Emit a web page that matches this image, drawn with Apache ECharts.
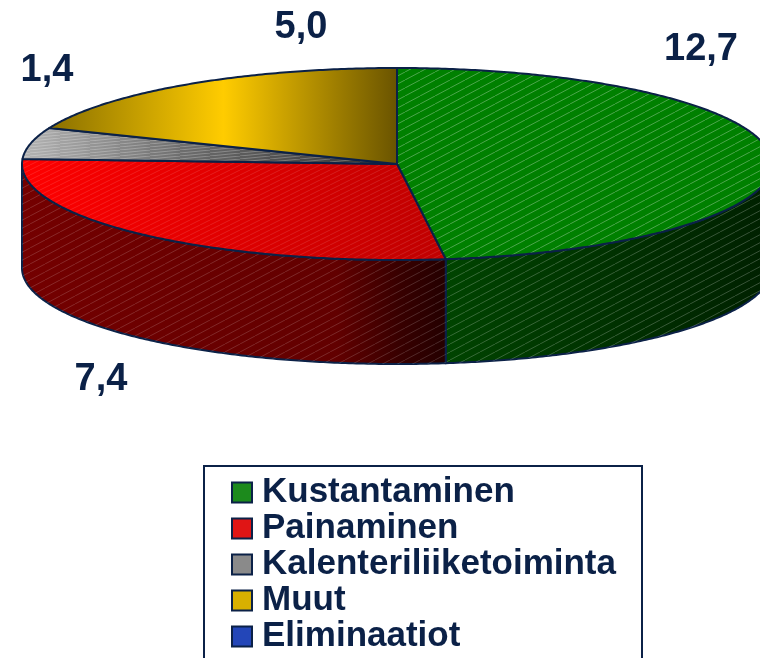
<!DOCTYPE html>
<html>
<head>
<meta charset="utf-8">
<script src="https://cdn.jsdelivr.net/npm/echarts@6/dist/echarts.min.js"></script>
<style>
html, body { margin: 0; padding: 0; background: #fff; }
#chart { width: 760px; height: 658px; }
</style>
</head>
<body>
<div id="chart"></div>
<script>
var categories = ['Kustantaminen', 'Painaminen', 'Kalenteriliiketoiminta', 'Muut', 'Eliminaatiot'];
var values = [12.7, 7.4, 1.4, 5.0, 0];
var legendColors = ['#1c8a1c', '#e01515', '#8a8a8a', '#d8b000', '#2346b8'];

var chart = echarts.init(document.getElementById('chart'));

// tilted pie geometry (layout only)
var cx = 397, cy = 164, rx = 375, ry = 96, depth = 104;
var labelPos = [[701, 50], [101, 380], [47, 71], [301, 28], [0, 0]];
var navy = '#0b2147';
var font = '"Liberation Sans", Arial, sans-serif';

var total = 0;
for (var i = 0; i < values.length; i++) total += values[i];

function hatch(alpha, w, h) {
    var c = document.createElement('canvas');
    c.width = w;
    c.height = h;
    var g = c.getContext('2d');
    g.strokeStyle = 'rgba(255,255,255,' + alpha + ')';
    g.lineWidth = 1;
    g.beginPath();
    for (var k = -1; k <= 1; k++) {
        g.moveTo(k * w, h);
        g.lineTo(k * w + w, 0);
    }
    g.stroke();
    return { image: c, repeat: 'repeat' };
}

function grad(x0, x1, stops) {
    return new echarts.graphic.LinearGradient(x0, 0, x1, 0, stops, true);
}

var tops = [
    '#008000',
    grad(22, 441, [{ offset: 0, color: '#ff0000' }, { offset: 1, color: '#c00000' }]),
    grad(22, 397, [{ offset: 0, color: '#b4b4b4' }, { offset: 0.45, color: '#6a6a6a' }, { offset: 1, color: '#303030' }]),
    grad(50, 397, [{ offset: 0, color: '#8a7000' }, { offset: 0.5, color: '#ffcc00' }, { offset: 1, color: '#6a5400' }]),
    '#2346b8'
];
var walls = [
    grad(441, 772, [{ offset: 0, color: '#004400' }, { offset: 1, color: '#002000' }]),
    grad(22, 441, [{ offset: 0, color: '#740000' }, { offset: 0.75, color: '#620000' }, { offset: 0.9, color: '#380000' }, { offset: 1, color: '#260000' }]),
    '#404040', '#6a5400', '#102060'
];
var topHatch = [hatch(0.3, 15, 8), hatch(0.12, 10, 5), hatch(0.25, 30, 3), null, null];
var wallHatch = [hatch(0.22, 15, 8), hatch(0.16, 15, 8), null, null, null];

function pt(a, dy) {
    return [cx + rx * Math.sin(a), cy - ry * Math.cos(a) + dy];
}

function arc(a0, a1, dy) {
    var pts = [];
    var n = Math.max(2, Math.ceil((a1 - a0) / 0.01));
    for (var k = 0; k <= n; k++) pts.push(pt(a0 + (a1 - a0) * k / n, dy));
    return pts;
}

function renderSlice(idx) {
    return function (params, api) {
        var v = api.value(0);
        var start = api.value(1);
        if (!(v > 0)) return;
        var a0 = start / total * Math.PI * 2;
        var a1 = (start + v) / total * Math.PI * 2;
        var children = [];
        var w0 = Math.max(a0, Math.PI / 2), w1 = Math.min(a1, Math.PI * 1.5);
        if (w1 > w0) {
            var wall = arc(w0, w1, 0).concat(arc(w0, w1, depth).reverse());
            children.push({ type: 'polygon', shape: { points: wall },
                style: { fill: walls[idx], stroke: navy, lineWidth: 2, lineJoin: 'round' } });
            if (wallHatch[idx]) children.push({ type: 'polygon', silent: true, shape: { points: wall },
                style: { fill: wallHatch[idx] } });
        }
        var top = [[cx, cy]].concat(arc(a0, a1, 0));
        children.push({ type: 'polygon', shape: { points: top },
            style: { fill: tops[idx], lineWidth: 0 } });
        if (topHatch[idx]) children.push({ type: 'polygon', silent: true, shape: { points: top },
            style: { fill: topHatch[idx] } });
        children.push({ type: 'polygon', silent: true, shape: { points: top },
            style: { fill: null, stroke: navy, lineWidth: 2, lineJoin: 'round' } });
        children.push({ type: 'text', silent: true, style: {
            text: v.toFixed(1).replace('.', ','), x: labelPos[idx][0], y: labelPos[idx][1],
            align: 'center', verticalAlign: 'middle', fill: navy,
            font: 'bold 38px ' + font } });
        return { type: 'group', children: children };
    };
}

var series = [];
var cum = 0;
for (var i = 0; i < categories.length; i++) {
    series.push({
        name: categories[i],
        type: 'custom',
        coordinateSystem: 'none',
        renderItem: renderSlice(i),
        itemStyle: { color: legendColors[i], borderColor: navy, borderWidth: 1.5 },
        data: [[values[i], cum]],
        silent: true
    });
    cum += values[i];
}

chart.setOption({
    animation: false,
    graphic: [{
        type: 'rect', left: 203, top: 465, z: -10,
        shape: { width: 438, height: 210 },
        style: { fill: '#fff', stroke: navy, lineWidth: 2 }
    }],
    legend: {
        orient: 'vertical',
        left: 226,
        top: 470,
        height: 400,
        data: categories,
        icon: 'rect',
        itemWidth: 20,
        itemHeight: 20,
        itemGap: 1,
        selectedMode: false,
        textStyle: { fontSize: 35, fontWeight: 'bold', color: navy, fontFamily: font, lineHeight: 31, padding: [0, 0, 0, 5] }
    },
    series: series
});
</script>
</body>
</html>
